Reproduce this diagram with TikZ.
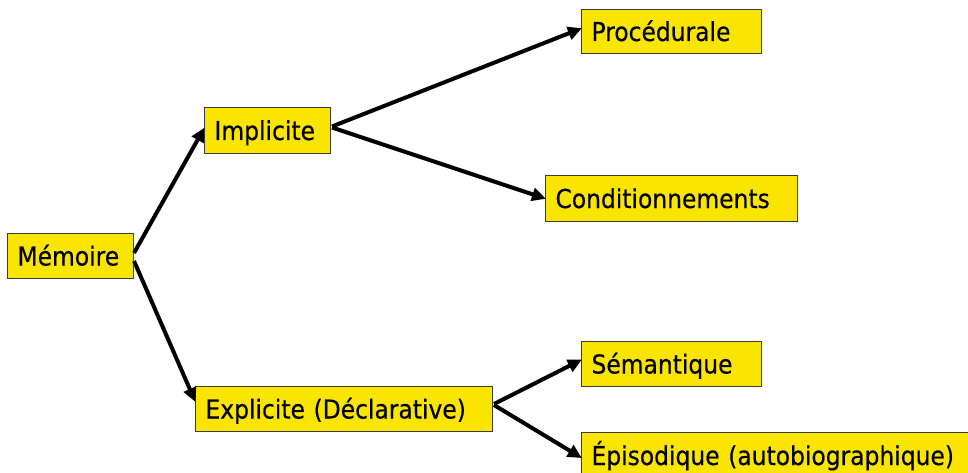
\documentclass[tikz,border=0pt]{standalone}
\usepackage{fontspec}
\setmainfont{DejaVu Sans}[FakeStretch=0.9,FakeBold=0.4]
\usetikzlibrary{arrows.meta}
\definecolor{boxyellow}{RGB}{249,229,0}
\definecolor{boxedge}{RGB}{60,60,60}
\tikzset{
  conceptbox/.style={draw=boxedge, line width=1pt, fill=boxyellow, rectangle,
    anchor=north west, inner xsep=10pt, inner ysep=0pt, align=left,
    text height=19pt, text depth=0pt, font=\fontsize{26}{28}\selectfont},
  link/.style={line width=4pt, -{Triangle[length=14pt,width=13pt]}, shorten >=-1pt}
}
\begin{document}
\begin{tikzpicture}[x=1pt,y=-1pt]
\useasboundingbox (0,0) rectangle (968,473);
\clip (0,0) rectangle (968,473);
\node[conceptbox, text width=106pt, minimum height=45pt] (mem) at (7,233) {Mémoire};
\node[conceptbox, text width=106pt, minimum height=46pt] (imp) at (204,107) {Implicite};
\node[conceptbox, text width=160pt, minimum height=44pt] (pro) at (581,9) {Procédurale};
\node[conceptbox, text width=232pt, minimum height=46pt] (con) at (545,175) {Conditionnements};
\node[conceptbox, text width=277pt, minimum height=45pt] (exp) at (195,386) {Explicite (Déclarative)};
\node[conceptbox, text width=160pt, minimum height=45pt] (sem) at (581,341) {Sémantique};
\node[conceptbox, text width=380pt, minimum height=46pt] (epi) at (581,432) {Épisodique (autobiographique)};
\draw[link] ([yshift=3pt]mem.east) -- ([yshift=2pt]imp.west);
\draw[link] ([yshift=-5pt]mem.east) -- ([yshift=8pt]exp.west);
\draw[link] ([xshift=1pt,yshift=4pt]imp.east) -- ([yshift=3pt]pro.west);
\draw[link] ([xshift=1pt,yshift=3pt]imp.east) -- (con.west);
\draw[link] ([xshift=1pt,yshift=5pt]exp.east) -- ([yshift=4pt]sem.west);
\draw[link] ([xshift=1pt,yshift=4pt]exp.east) -- ([yshift=-2pt]epi.west);
\end{tikzpicture}
\end{document}
